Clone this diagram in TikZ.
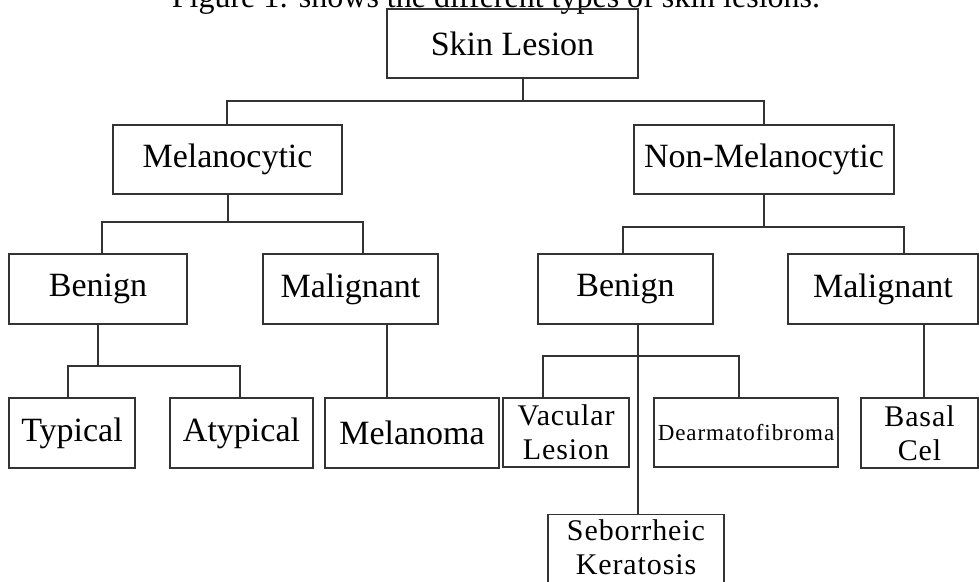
\documentclass[tikz,border=0pt]{standalone}
\usepackage{fontspec}
\setmainfont{Liberation Serif}
\begin{document}
\begin{tikzpicture}[x=1pt,y=-1pt,
  box/.style={draw=black!80, line width=1.2pt, inner sep=0pt, align=center,
    font=\fontsize{34}{38}\selectfont},
  twoline/.style={font=\fontsize{30}{34}\selectfont\addfontfeature{LetterSpace=3}},
  link/.style={draw=black!80, line width=1.2pt}]
\useasboundingbox (0,0) rectangle (979,581);
\fill[white] (0,0) rectangle (979,581);
\clip (0,0) rectangle (979,581);
\node[anchor=base, inner sep=0pt, font=\fontsize{32}{36}\selectfont] (cap) at (496,7)
  {Figure 1: shows the different types of skin lesions.};
% level 0
\node[box, minimum width=251pt, minimum height=69pt] (skin) at (512.5,43.5) {Skin Lesion};
% level 1
\node[box, minimum width=229pt, minimum height=69pt] (mel) at (227.5,159.5) {Melanocytic};
\node[box, minimum width=260pt, minimum height=69pt] (nonmel) at (764,159.5) {Non-Melanocytic};
% level 2
\node[box, minimum width=178pt, minimum height=70pt] (lben) at (98,289) {Benign};
\node[box, minimum width=175pt, minimum height=70pt] (lmal) at (350.5,289) {Malignant};
\node[box, minimum width=175pt, minimum height=70pt] (rben) at (625.5,289) {Benign};
\node[box, minimum width=190pt, minimum height=70pt] (rmal) at (883,289) {Malignant};
% level 3
\node[box, minimum width=126pt, minimum height=70pt] (typ) at (72,433) {Typical};
\node[box, minimum width=143pt, minimum height=70pt] (atyp) at (241.5,433) {Atypical};
\node[box, minimum width=174pt, minimum height=70pt] (melan) at (412,433) {Melanoma};
\node[box, twoline, minimum width=126pt, minimum height=69pt] (vac) at (566,432.5) {Vacular\\Lesion};
\node[box, minimum width=184pt, minimum height=69pt,
  font=\fontsize{23}{27}\selectfont\addfontfeature{LetterSpace=4}] (derm) at (746,432.5) {Dearmatofibroma};
\node[box, twoline, minimum width=117pt, minimum height=70pt] (basal) at (919.5,433) {Basal\\Cel};
\node[box, twoline, anchor=north, minimum width=176pt, inner ysep=5pt, text depth=22pt] (seb) at (636,514) {Seborrheic\\Keratosis};
% junctions
\coordinate (j0) at (523,101);
\coordinate (j1) at (228,222);
\coordinate (j2) at (764,227);
\coordinate (j3) at (98,366);
\coordinate (j4) at (638,356);
% connectors
\draw[link] (skin.south -| j0) -- (j0);
\draw[link] ([xshift=-0.5pt]mel.north) |- (j0) -| (nonmel.north);
\draw[link] (mel.south -| j1) -- (j1);
\draw[link] ([xshift=4pt]lben.north) |- (j1) -| ([xshift=12.5pt]lmal.north);
\draw[link] (nonmel.south) -- (j2);
\draw[link] ([xshift=-2.5pt]rben.north) |- (j2) -| ([xshift=21pt]rmal.north);
\draw[link] (lben.south) -- (j3);
\draw[link] ([xshift=-4pt]typ.north) |- (j3) -| ([xshift=-1.5pt]atyp.north);
\draw[link] ([xshift=36.5pt]lmal.south) -- ([xshift=-25pt]melan.north);
\draw[link] ([xshift=12.5pt]rben.south) -- ([xshift=2pt]seb.north);
\draw[link] ([xshift=-23pt]vac.north) |- (j4) -| ([xshift=-7pt]derm.north);
\draw[link] ([xshift=41pt]rmal.south) -- ([xshift=4.5pt]basal.north);
\end{tikzpicture}
\end{document}
